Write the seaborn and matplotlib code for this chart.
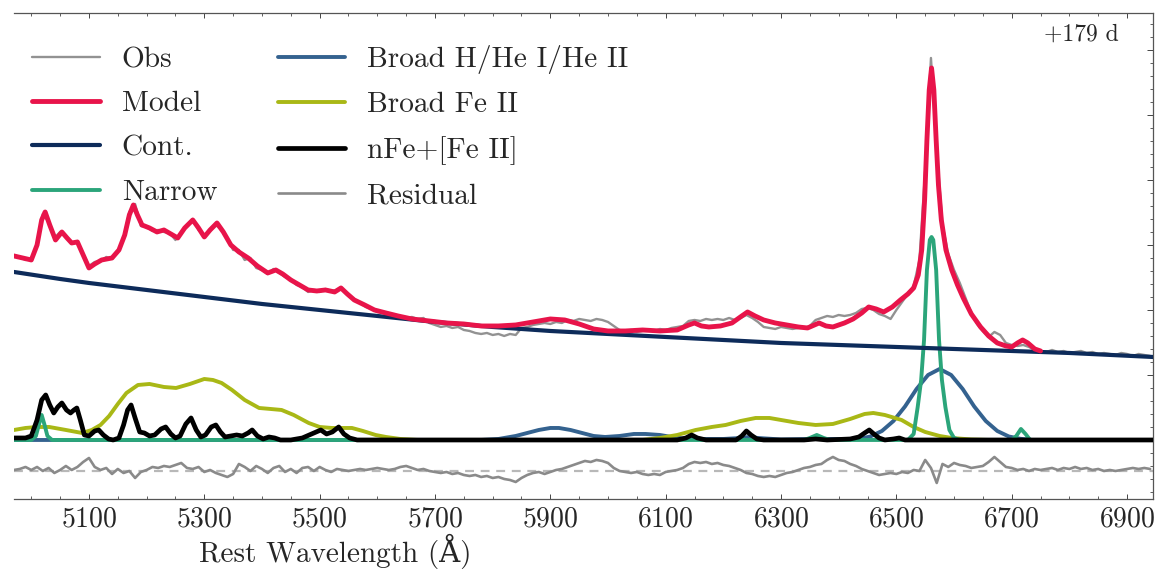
import numpy as np
import matplotlib
matplotlib.use('Agg')
import matplotlib.pyplot as plt
import seaborn as sns
from matplotlib.ticker import MultipleLocator

# ---------------- data ----------------
grid_start, grid_step = 4970, 10
obs_flux = [
    1.85, 1.83, 1.80, 1.81, 1.96, 2.26, 2.18, 2.02, 2.08, 2.04,
    1.96, 1.99, 1.86, 1.74, 1.78, 1.79, 1.83, 1.81, 1.88, 2.02,
    2.28, 2.36, 2.14, 2.13, 2.09, 2.10, 2.08, 2.07, 2.00, 2.08,
    2.15, 2.21, 2.10, 2.05, 2.09, 2.15, 2.10, 2.02, 1.90, 1.90,
    1.80, 1.82, 1.72, 1.70, 1.66, 1.71, 1.67, 1.63, 1.61, 1.55,
    1.53, 1.48, 1.50, 1.48, 1.51, 1.49, 1.50, 1.51, 1.44, 1.41,
    1.37, 1.33, 1.31, 1.28, 1.27, 1.24, 1.23, 1.24, 1.22, 1.23,
    1.21, 1.22, 1.17, 1.15, 1.13, 1.14, 1.12, 1.13, 1.10, 1.09,
    1.07, 1.06, 1.07, 1.05, 1.06, 1.04, 1.06, 1.05, 1.12, 1.13,
    1.15, 1.16, 1.17, 1.16, 1.18, 1.17, 1.20, 1.19, 1.21, 1.20,
    1.19, 1.21, 1.20, 1.18, 1.14, 1.10, 1.09, 1.10, 1.08, 1.09,
    1.10, 1.09, 1.11, 1.10, 1.12, 1.13, 1.14, 1.19, 1.20, 1.19,
    1.21, 1.20, 1.21, 1.20, 1.22, 1.20, 1.22, 1.25, 1.22, 1.18,
    1.13, 1.12, 1.11, 1.13, 1.12, 1.11, 1.12, 1.12, 1.14, 1.20,
    1.22, 1.24, 1.23, 1.25, 1.24, 1.25, 1.27, 1.31, 1.32, 1.30,
    1.26, 1.24, 1.21, 1.30, 1.38, 1.46, 1.54, 1.80, 2.70, 3.82,
    2.90, 2.15, 1.86, 1.70, 1.57, 1.42, 1.27, 1.16, 1.09, 1.03,
    1.08, 1.05, 0.97, 0.95, 0.94, 0.95, 0.93, 0.90, 0.89, 0.88,
    0.90, 0.88, 0.89, 0.87, 0.88, 0.89, 0.87, 0.88, 0.86, 0.87,
    0.86, 0.85, 0.87, 0.86, 0.84, 0.86, 0.85, 0.84,
]
resid_flux = [
    -0.30, -0.29, -0.27, -0.30, -0.27, -0.31, -0.28, -0.33, -0.30, -0.26,
    -0.30, -0.27, -0.22, -0.18, -0.27, -0.30, -0.28, -0.34, -0.29, -0.33,
    -0.31, -0.38, -0.32, -0.30, -0.27, -0.28, -0.26, -0.27, -0.25, -0.23,
    -0.28, -0.29, -0.27, -0.32, -0.30, -0.33, -0.35, -0.37, -0.34, -0.24,
    -0.27, -0.31, -0.26, -0.29, -0.33, -0.28, -0.26, -0.32, -0.29, -0.33,
    -0.28, -0.27, -0.31, -0.27, -0.30, -0.32, -0.29, -0.30, -0.31, -0.30,
    -0.29, -0.30, -0.29, -0.28, -0.29, -0.30, -0.29, -0.27, -0.26, -0.28,
    -0.30, -0.29, -0.31, -0.32, -0.33, -0.32, -0.34, -0.33, -0.35, -0.36,
    -0.35, -0.37, -0.36, -0.38, -0.37, -0.39, -0.40, -0.42, -0.38, -0.35,
    -0.33, -0.32, -0.34, -0.32, -0.30, -0.29, -0.27, -0.25, -0.23, -0.21,
    -0.22, -0.20, -0.21, -0.23, -0.28, -0.31, -0.32, -0.33, -0.32, -0.34,
    -0.35, -0.34, -0.35, -0.32, -0.31, -0.30, -0.28, -0.24, -0.22, -0.23,
    -0.22, -0.24, -0.23, -0.25, -0.26, -0.28, -0.30, -0.33, -0.34, -0.36,
    -0.37, -0.36, -0.37, -0.35, -0.33, -0.32, -0.30, -0.28, -0.27, -0.25,
    -0.24, -0.20, -0.17, -0.20, -0.21, -0.24, -0.26, -0.29, -0.31, -0.33,
    -0.35, -0.34, -0.33, -0.34, -0.32, -0.33, -0.30, -0.31, -0.20, -0.28,
    -0.43, -0.24, -0.27, -0.23, -0.25, -0.26, -0.28, -0.27, -0.26, -0.22,
    -0.17, -0.22, -0.27, -0.28, -0.30, -0.29, -0.31, -0.29, -0.30, -0.29,
    -0.28, -0.30, -0.28, -0.29, -0.27, -0.29, -0.28, -0.30, -0.29, -0.31,
    -0.30, -0.31, -0.30, -0.29, -0.28, -0.29, -0.28, -0.29,
]
resid_zero = -0.31

model_wave = [4970, 4985, 5000, 5010, 5018, 5024, 5032, 5042, 5053, 5062, 5070, 5080,
              5090, 5100, 5110, 5122, 5140, 5152, 5162, 5170, 5177, 5184, 5192, 5205,
              5218, 5230, 5242, 5254, 5266, 5280, 5290, 5300, 5310, 5322, 5333, 5346,
              5360, 5376, 5392, 5410, 5424, 5436, 5450, 5465, 5480, 5495, 5510, 5526,
              5537, 5548, 5560, 5578, 5595, 5615, 5636, 5660, 5690, 5720, 5750, 5780,
              5810, 5840, 5870, 5900, 5925, 5950, 5975, 6000, 6030, 6060, 6090, 6120,
              6140, 6150, 6162, 6175, 6195, 6215, 6232, 6242, 6255, 6270, 6290, 6310,
              6330, 6346, 6358, 6366, 6378, 6390, 6410, 6425, 6440, 6452, 6465, 6478,
              6493, 6507, 6520, 6530, 6538, 6544, 6549, 6553, 6557, 6561, 6565, 6569,
              6573, 6578, 6586, 6596, 6606, 6616, 6630, 6646, 6660, 6675, 6690, 6700,
              6710, 6719, 6728, 6740, 6750]
model_flux = [1.84, 1.82, 1.80, 1.95, 2.20, 2.28, 2.15, 2.00, 2.08, 2.02, 1.97, 1.98,
              1.85, 1.72, 1.76, 1.80, 1.82, 1.90, 2.05, 2.25, 2.35, 2.25, 2.15, 2.12,
              2.08, 2.10, 2.06, 2.02, 2.12, 2.20, 2.12, 2.03, 2.10, 2.17, 2.08, 1.95,
              1.88, 1.82, 1.74, 1.67, 1.70, 1.66, 1.60, 1.55, 1.50, 1.49, 1.50, 1.48,
              1.52, 1.46, 1.40, 1.35, 1.30, 1.27, 1.24, 1.21, 1.19, 1.17, 1.16, 1.14,
              1.14, 1.15, 1.18, 1.21, 1.20, 1.16, 1.11, 1.09, 1.09, 1.10, 1.09, 1.10,
              1.15, 1.17, 1.14, 1.13, 1.14, 1.17, 1.24, 1.28, 1.24, 1.20, 1.17, 1.15,
              1.13, 1.12, 1.15, 1.17, 1.14, 1.13, 1.17, 1.21, 1.27, 1.33, 1.31, 1.28,
              1.33, 1.40, 1.46, 1.52, 1.65, 1.90, 2.40, 3.00, 3.50, 3.72, 3.50, 3.00,
              2.55, 2.20, 1.90, 1.70, 1.55, 1.42, 1.26, 1.13, 1.04, 0.97, 0.94, 0.93,
              0.97, 1.00, 0.97, 0.91, 0.89]

cont_wave = [4970, 5050, 5100, 5200, 5300, 5400, 5500, 5600, 5700, 5800, 5900,
             6000, 6100, 6200, 6300, 6400, 6500, 6600, 6700, 6800, 6945]
cont_flux = [1.68, 1.61, 1.57, 1.50, 1.43, 1.36, 1.30, 1.24, 1.18, 1.13, 1.09,
             1.06, 1.03, 1.00, 0.97, 0.95, 0.93, 0.91, 0.89, 0.87, 0.83]

narrow_wave = [4970, 5000, 5008, 5013, 5018, 5023, 5028, 5036, 6340, 6350, 6362, 6374,
               6385, 6520, 6530, 6537, 6543, 6548, 6553, 6558, 6561, 6564, 6569, 6574,
               6579, 6585, 6592, 6600, 6610, 6700, 6708, 6716, 6724, 6732, 6945]
narrow_flux = [0.0, 0.0, 0.04, 0.15, 0.25, 0.15, 0.04, 0.0, 0.0, 0.02, 0.05, 0.02,
               0.0, 0.0, 0.06, 0.33, 0.60, 1.00, 1.70, 2.00, 2.03, 2.00, 1.70, 1.00,
               0.60, 0.33, 0.10, 0.02, 0.0, 0.0, 0.04, 0.11, 0.06, 0.0, 0.0]

broadh_wave = [4970, 5780, 5810, 5840, 5860, 5880, 5900, 5915, 5935, 5955, 5975, 5995,
               6020, 6045, 6065, 6090, 6110, 6130, 6150, 6200, 6230, 6245, 6260, 6300,
               6350, 6400, 6435, 6455, 6475, 6495, 6515, 6535, 6555, 6575, 6595, 6615,
               6635, 6655, 6675, 6695, 6715, 6735, 6945]
broadh_flux = [0.0, 0.0, 0.01, 0.04, 0.07, 0.10, 0.12, 0.12, 0.10, 0.07, 0.04, 0.03,
               0.04, 0.06, 0.06, 0.05, 0.03, 0.015, 0.01, 0.01, 0.02, 0.03, 0.02, 0.005,
               0.01, 0.01, 0.01, 0.035, 0.09, 0.19, 0.335, 0.51, 0.65, 0.71, 0.65, 0.51,
               0.335, 0.19, 0.09, 0.035, 0.012, 0.0, 0.0]

fe2_wave = [4970, 4990, 5010, 5031, 5060, 5088, 5105, 5120, 5135, 5150, 5165, 5185,
            5205, 5230, 5251, 5275, 5300, 5315, 5330, 5348, 5370, 5395, 5415, 5434,
            5455, 5481, 5500, 5521, 5540, 5556, 5575, 5597, 5615, 5640, 5670, 6060,
            6090, 6120, 6152, 6180, 6204, 6230, 6256, 6280, 6300, 6330, 6360, 6390,
            6420, 6445, 6460, 6480, 6509, 6530, 6550, 6575, 6596, 6630, 6660, 6945]
fe2_flux = [0.10, 0.12, 0.13, 0.13, 0.10, 0.07, 0.10, 0.15, 0.24, 0.36, 0.47, 0.55,
            0.56, 0.53, 0.52, 0.56, 0.61, 0.60, 0.57, 0.50, 0.40, 0.32, 0.31, 0.30,
            0.25, 0.17, 0.13, 0.12, 0.12, 0.12, 0.09, 0.05, 0.03, 0.01, 0.0, 0.0,
            0.02, 0.05, 0.10, 0.13, 0.15, 0.19, 0.22, 0.22, 0.20, 0.17, 0.15, 0.16,
            0.21, 0.26, 0.27, 0.25, 0.20, 0.13, 0.08, 0.04, 0.02, 0.005, 0.0, 0.0]

nfe_wave = [4970, 4990, 5000, 5010, 5018, 5025, 5032, 5039, 5046, 5053, 5061, 5068,
            5074, 5079, 5085, 5092, 5100, 5110, 5117, 5125, 5134, 5142, 5152, 5160,
            5167, 5173, 5180, 5188, 5196, 5205, 5214, 5225, 5233, 5242, 5250, 5258,
            5268, 5277, 5286, 5294, 5302, 5312, 5320, 5328, 5336, 5346, 5356, 5366,
            5376, 5383, 5392, 5402, 5412, 5422, 5432, 5450, 5470, 5490, 5502, 5512,
            5522, 5533, 5542, 5552, 5565, 6120, 6135, 6145, 6155, 6170, 6222, 6232,
            6240, 6248, 6258, 6270, 6340, 6360, 6380, 6420, 6435, 6445, 6453, 6461,
            6470, 6480, 6495, 6505, 6515, 6945]
nfe_flux = [0.02, 0.02, 0.04, 0.20, 0.40, 0.45, 0.35, 0.27, 0.33, 0.37, 0.30, 0.27,
            0.30, 0.32, 0.20, 0.05, 0.04, 0.09, 0.10, 0.05, 0.01, 0.0, 0.02, 0.15,
            0.30, 0.35, 0.22, 0.08, 0.07, 0.04, 0.05, 0.11, 0.13, 0.06, 0.02, 0.04,
            0.16, 0.22, 0.10, 0.03, 0.05, 0.13, 0.15, 0.08, 0.03, 0.04, 0.05, 0.04,
            0.07, 0.10, 0.04, 0.01, 0.03, 0.02, 0.0, 0.0, 0.02, 0.07, 0.10, 0.06,
            0.08, 0.13, 0.06, 0.02, 0.0, 0.0, 0.02, 0.05, 0.02, 0.0, 0.0, 0.04,
            0.09, 0.05, 0.01, 0.0, 0.0, 0.01, 0.0, 0.01, 0.03, 0.07, 0.10, 0.06,
            0.02, 0.0, 0.01, 0.02, 0.0, 0.0]

labels = ['Obs', 'Model', 'Cont.', 'Narrow', 'Broad H/He I/He II',
          'Broad Fe II', 'nFe+[Fe II]', 'Residual']
epoch_text = '+179 d'

grid_wave = grid_start + grid_step * np.arange(len(obs_flux))

# ---------------- style ----------------
sns.set_style('ticks')
plt.rcParams['font.family'] = ['cmr10', 'DejaVu Serif']
plt.rcParams['mathtext.fontset'] = 'cm'
plt.rcParams['axes.formatter.use_mathtext'] = True
plt.rcParams['axes.unicode_minus'] = False

fig = plt.figure(figsize=(11.56, 5.74), dpi=100)
ax = fig.add_axes([0.0121, 0.1307, 0.9853, 0.8467])

c_obs = '#929292'
c_model = '#E8144A'
c_cont = '#0D2B5A'
c_narrow = '#2BA57A'
c_broadh = '#34628F'
c_fe2 = '#A9B816'
c_nfe = '#000000'
c_res = '#8A8A8A'

sns.lineplot(x=grid_wave, y=obs_flux, ax=ax, color=c_obs, lw=1.7, label=labels[0], zorder=2)
sns.lineplot(x=model_wave, y=model_flux, ax=ax, color=c_model, lw=3.5, label=labels[1], zorder=4)
sns.lineplot(x=cont_wave, y=cont_flux, ax=ax, color=c_cont, lw=3.0, label=labels[2], zorder=3)
sns.lineplot(x=narrow_wave, y=narrow_flux, ax=ax, color=c_narrow, lw=2.8, label=labels[3], zorder=2.6)
sns.lineplot(x=broadh_wave, y=broadh_flux, ax=ax, color=c_broadh, lw=2.8, label=labels[4], zorder=2.4)
sns.lineplot(x=fe2_wave, y=fe2_flux, ax=ax, color=c_fe2, lw=2.8, label=labels[5], zorder=2.5)
sns.lineplot(x=nfe_wave, y=nfe_flux, ax=ax, color=c_nfe, lw=3.4, label=labels[6], zorder=2.8)
ax.axhline(resid_zero, color='#B8B8B8', lw=1.6, ls=(0, (4, 3)), zorder=1.5)
sns.lineplot(x=grid_wave, y=resid_flux, ax=ax, color=c_res, lw=1.9, label=labels[7], zorder=2)

ax.set_xlim(4970, 6945)
ax.set_ylim(-0.59, 4.27)

ax.xaxis.set_major_locator(MultipleLocator(200, offset=100))
ax.xaxis.set_minor_locator(MultipleLocator(50))
ax.yaxis.set_major_locator(MultipleLocator(0.65))
ax.yaxis.set_minor_locator(MultipleLocator(0.13))
ax.tick_params(axis='x', which='both', direction='in', top=True, bottom=True,
               labelsize=20, pad=5, color='#444444')
ax.tick_params(axis='x', which='major', length=3.5, width=0.7)
ax.tick_params(axis='x', which='minor', length=2, width=0.6)
ax.tick_params(axis='y', which='both', direction='in', left=False, right=True,
               labelleft=False, labelright=False, color='#444444')
ax.tick_params(axis='y', which='major', length=4, width=0.7)
ax.tick_params(axis='y', which='minor', length=2.2, width=0.6)
ax.spines['left'].set_visible(False)
for s in ['top', 'right', 'bottom']:
    ax.spines[s].set_linewidth(0.9)
    ax.spines[s].set_color('#555555')

ax.set_xlabel('Rest Wavelength (Å)', fontsize=21, labelpad=3)
ax.xaxis.set_label_coords(0.282, -0.072)
ax.set_ylabel('')

ax.text(0.970, 0.955, epoch_text, transform=ax.transAxes, ha='right', va='center',
        fontsize=17)

leg = ax.legend(loc='upper left', bbox_to_anchor=(0.008, 0.952), ncol=2, frameon=False,
                fontsize=21.2, handlelength=2.3, handletextpad=0.75, columnspacing=2.05,
                labelspacing=0.6, borderaxespad=0.0, borderpad=0.3)

fig.savefig('out.png', dpi=100)
